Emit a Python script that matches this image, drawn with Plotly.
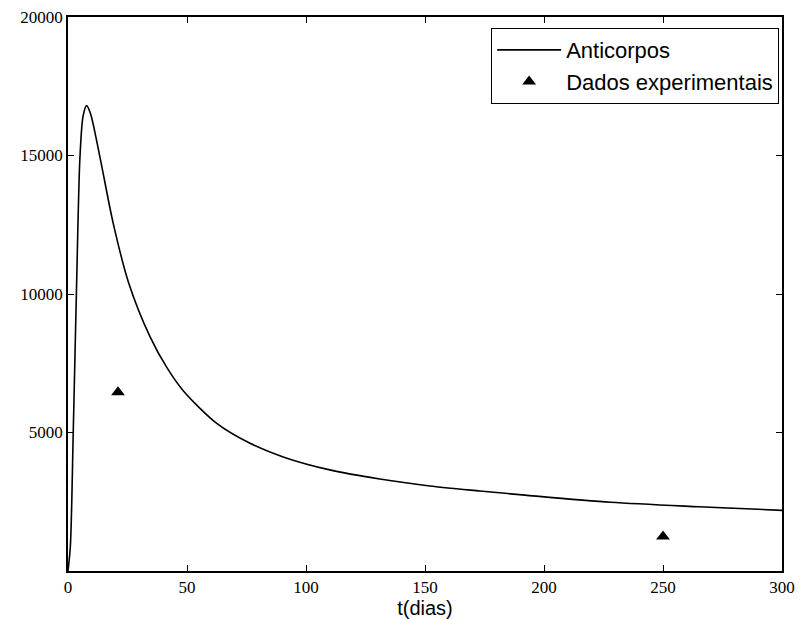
import plotly.graph_objects as go

# Curve
t_curve = [0, 1, 2.2, 3.6, 5, 6.3, 7.8, 9.5, 13.4, 19, 25.5, 34.5, 41.5, 48.5,
           62.5, 76.5, 91, 110, 131, 152, 173, 192, 228, 265, 300]
anticorpos = [0, 900, 5000, 10300, 14900, 16400, 16800, 16500, 14950, 12550,
              10400, 8450, 7350, 6500, 5330, 4610, 4100, 3650, 3320, 3070,
              2890, 2740, 2480, 2320, 2190]

# Experimental data
t_dados = [21, 250]
dados = [6450, 1250]

x_ticks = [0, 50, 100, 150, 200, 250, 300]
y_ticks = [5000, 10000, 15000, 20000]
y_tick_labels = ["5000", "10000", "15000", "20000"]

fig = go.Figure()
fig.add_trace(go.Scatter(
    x=t_curve, y=anticorpos, mode="lines", name="Anticorpos",
    line=dict(color="black", width=1.6, shape="spline", smoothing=0.8),
))
fig.add_trace(go.Scatter(
    x=t_dados, y=dados, mode="markers", name="Dados experimentais",
    marker=dict(symbol="triangle-up", size=12, color="black"),
))

axis_common = dict(
    showline=True, linecolor="black", linewidth=1.5, mirror="allticks",
    ticks="inside", ticklen=6, tickcolor="black", tickwidth=1,
    showgrid=False, zeroline=False, automargin=False,
    tickfont=dict(family="Liberation Serif", size=17, color="black"),
)

fig.update_layout(
    width=800, height=619,
    margin=dict(l=68, r=18, t=17, b=48),
    paper_bgcolor="white", plot_bgcolor="white",
    showlegend=True,
    legend=dict(
        x=0.996, y=0.98, xanchor="right", yanchor="top",
        bordercolor="black", borderwidth=1, bgcolor="white",
        font=dict(family="Liberation Sans", size=22, color="black"),
        itemwidth=64,
    ),
    xaxis=dict(range=[0, 300], tickvals=x_ticks,
               title=dict(text="t(dias)", standoff=4,
                          font=dict(family="Liberation Sans", size=20, color="black")),
               **axis_common),
    yaxis=dict(range=[0, 20000], tickvals=y_ticks, ticktext=y_tick_labels,
               **axis_common),
)

fig.write_html("out.html")
